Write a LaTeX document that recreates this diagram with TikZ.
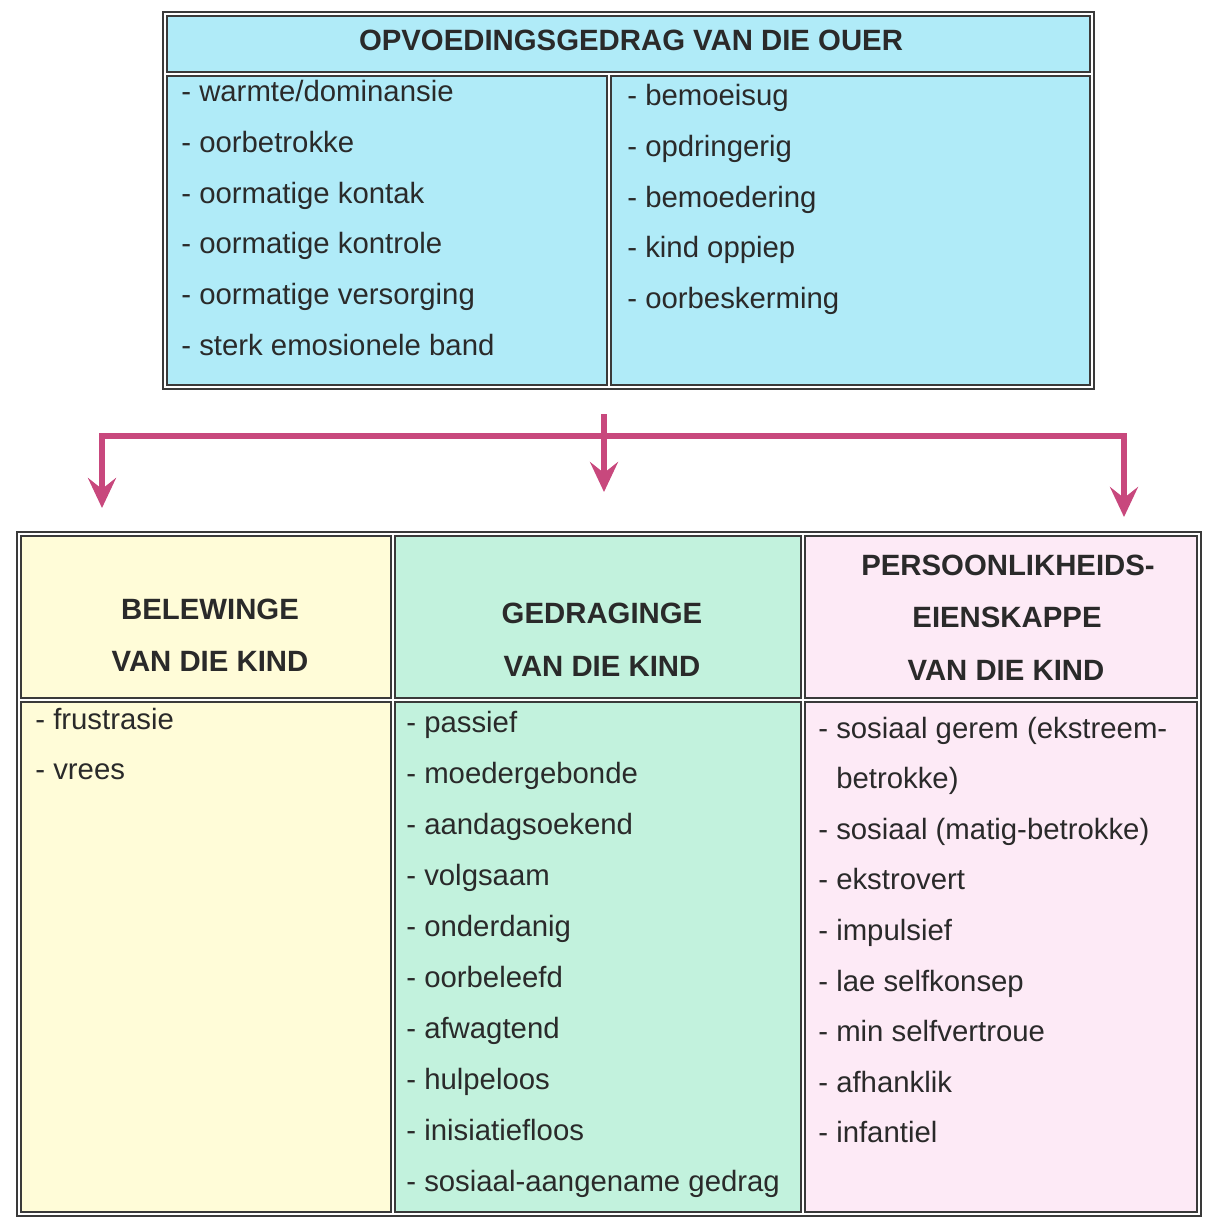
\documentclass[tikz,border=0pt]{standalone}
\usepackage{fontspec}
\setmainfont{Liberation Sans}
\usetikzlibrary{arrows.meta}
\definecolor{ouerblue}{HTML}{B0EBF8}
\definecolor{kindyellow}{HTML}{FFFCD8}
\definecolor{kindgreen}{HTML}{C2F2DD}
\definecolor{kindpink}{HTML}{FDEAF6}
\definecolor{pijlred}{HTML}{C8487D}
\definecolor{ink}{HTML}{2A2A2A}
\definecolor{rand}{HTML}{3A3A3A}

\begin{document}
\begin{tikzpicture}[x=0.02cm,y=-0.02cm,
  frame/.style={draw=rand,line width=0.8pt},
  item/.style={inner sep=0pt,anchor=base west,text=ink,font=\fontsize{16.7}{20}\selectfont},
  head/.style={inner sep=0pt,anchor=center,text=ink,font=\fontsize{16.7}{20}\selectfont\bfseries},
  pijl/.style={draw=pijlred,line width=0.12cm,line join=miter,
    -{Stealth[length=0.6cm,width=0.56cm,inset=0.22cm]}}]
  \useasboundingbox (0,0) rectangle (1206,1220);

  % ouer
  \draw[frame,fill=white] (163,12) rectangle (1094,389);
  \draw[frame,fill=ouerblue] (167,16) rectangle (1090,72);
  \draw[frame,fill=ouerblue] (167,76) rectangle (607,385);
  \draw[frame,fill=ouerblue] (611,76) rectangle (1090,385);
  \node[head] (titel) at (631,40) {OPVOEDINGSGEDRAG VAN DIE OUER};
  \foreach \t [count=\i] in {warmte/dominansie, oorbetrokke, oormatige kontak,
      oormatige kontrole, oormatige versorging, sterk emosionele band}
    \node[item] (ouerL\i) at (181,{102+50.6*(\i-1)}) {- \t};
  \foreach \t [count=\i] in {bemoeisug, opdringerig, bemoedering, kind oppiep,
      oorbeskerming}
    \node[item] (ouerR\i) at (627,{106+50.5*(\i-1)}) {- \t};

  % pyle
  \coordinate (bo) at (604,414);
  \coordinate (tak) at (604,436);
  \coordinate (pL) at (102,508);
  \coordinate (pM) at (604,492);
  \coordinate (pR) at (1124,517);
  \draw[pijl] (tak) -| (pL);
  \draw[pijl] (tak) -| (pR);
  \draw[pijl] (bo) -- (pM);

  % kind
  \draw[frame,fill=white] (17,532) rectangle (1201,1216);
  \draw[frame,fill=kindyellow] (21,536) rectangle (391,698);
  \draw[frame,fill=kindyellow] (21,702) rectangle (391,1212);
  \draw[frame,fill=kindgreen] (395,536) rectangle (801,698);
  \draw[frame,fill=kindgreen] (395,702) rectangle (801,1212);
  \draw[frame,fill=kindpink] (805,536) rectangle (1197,698);
  \draw[frame,fill=kindpink] (805,702) rectangle (1197,1212);

  \node[head] (bel1) at (210,609) {BELEWINGE};
  \node[head] (bel2) at (210,661) {VAN DIE KIND};
  \node[head] (ged1) at (602,613) {GEDRAGINGE};
  \node[head] (ged2) at (602,666) {VAN DIE KIND};
  \node[head] (per1) at (1008,565) {PERSOONLIKHEIDS-};
  \node[head] (per2) at (1007,617) {EIENSKAPPE};
  \node[head] (per3) at (1006,670) {VAN DIE KIND};

  \foreach \t [count=\i] in {frustrasie, vrees}
    \node[item] (bel\i) at (35,{729+50*(\i-1)}) {- \t};
  \foreach \t [count=\i] in {passief, moedergebonde, aandagsoekend, volgsaam,
      onderdanig, oorbeleefd, afwagtend, hulpeloos, inisiatiefloos,
      sosiaal-aangename gedrag}
    \node[item] (ged\i) at (406,{732+51.1*(\i-1)}) {- \t};
  \foreach \t [count=\i] in {- sosiaal gerem (ekstreem-, \phantom{- }betrokke),
      - sosiaal (matig-betrokke), - ekstrovert, - impulsief, - lae selfkonsep,
      - min selfvertroue, - afhanklik, - infantiel}
    \node[item] (per\i) at (818,{738+50.6*(\i-1)}) {\t};
\end{tikzpicture}
\end{document}
